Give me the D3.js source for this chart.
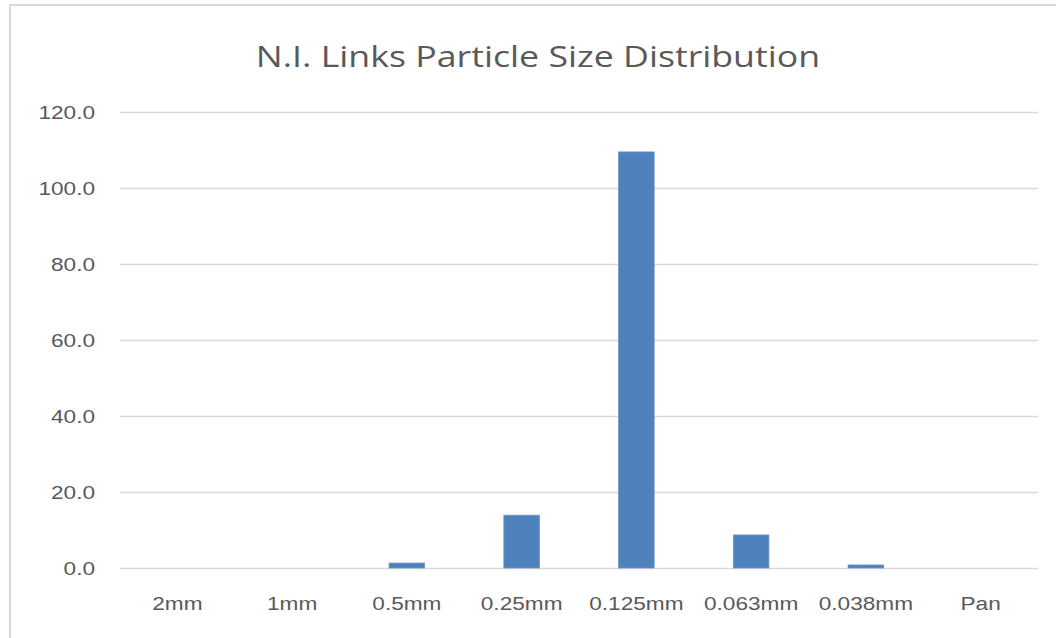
<!DOCTYPE html>
<html>
<head>
<meta charset="utf-8">
<script src="https://cdn.jsdelivr.net/npm/d3@7"></script>
<style>
  html, body { margin: 0; padding: 0; background: #fff; }
  svg { display: block; font-family: "Open Sans", "Liberation Sans", sans-serif; }
</style>
</head>
<body>
<svg id="chart" width="1056" height="638"></svg>
<script>
// Sieve fractions and retained amounts
const categories = ["2mm", "1mm", "0.5mm", "0.25mm", "0.125mm", "0.063mm", "0.038mm", "Pan"];
const values = [0.0, 0.0, 1.3, 13.9, 109.5, 8.7, 0.8, 0.0];
const yTicks = [0, 20, 40, 60, 80, 100, 120];
const title = "N.I. Links Particle Size Distribution";

const svg = d3.select("#chart");
const W = 1056, H = 638;
const margin = { left: 120, right: 18, top: 112, bottom: 70 };
const widen = 1.19; // horizontal stretch applied to all labels

function stretch(sel) {
  sel.each(function () {
    const len = this.getComputedTextLength();
    d3.select(this)
      .attr("textLength", len * widen)
      .attr("lengthAdjust", "spacingAndGlyphs");
  });
}

// chart frame (top and left edges)
svg.append("path")
  .attr("d", `M10,${H} L10,5 L${W},5`)
  .attr("fill", "none")
  .attr("stroke", "#d9d9d9")
  .attr("stroke-width", 2);

const x = d3.scaleBand()
  .domain(categories)
  .range([margin.left, W - margin.right])
  .paddingInner(0.69)
  .paddingOuter(0.345);

const y = d3.scaleLinear()
  .domain([0, 120])
  .range([H - margin.bottom, margin.top]);

// horizontal gridlines
const yAxis = d3.axisLeft(y)
  .tickValues(yTicks)
  .tickSize(-(W - margin.right - margin.left))
  .tickPadding(25)
  .tickFormat(d3.format(".1f"));

const gy = svg.append("g")
  .attr("transform", `translate(${margin.left},0)`)
  .call(yAxis);
gy.select(".domain").remove();
gy.selectAll(".tick line").attr("stroke", "#d9d9d9").attr("stroke-width", 1.5);
gy.selectAll(".tick text")
  .attr("fill", "#595959")
  .style("font-size", "19px")
  .call(stretch);

// bars
svg.append("g")
  .selectAll("rect")
  .data(categories.map((c, i) => ({ c, v: values[i] })))
  .join("rect")
  .attr("x", d => x(d.c))
  .attr("width", x.bandwidth())
  .attr("y", d => y(d.v))
  .attr("height", d => y(0) - y(d.v))
  .attr("fill", "#4f81bd")
  .attr("stroke", "#6b95c8")
  .attr("stroke-width", 0.8);

// category axis labels
const xAxis = d3.axisBottom(x).tickSize(0).tickPadding(29);
const gx = svg.append("g")
  .attr("transform", `translate(0,${y(0)})`)
  .call(xAxis);
gx.select(".domain").remove();
gx.selectAll(".tick text")
  .attr("fill", "#595959")
  .style("font-size", "19px")
  .call(stretch);

// title
svg.append("text")
  .attr("x", 538)
  .attr("y", 67)
  .attr("text-anchor", "middle")
  .attr("fill", "#595959")
  .style("font-size", "30px")
  .text(title)
  .call(stretch);
</script>
</body>
</html>
